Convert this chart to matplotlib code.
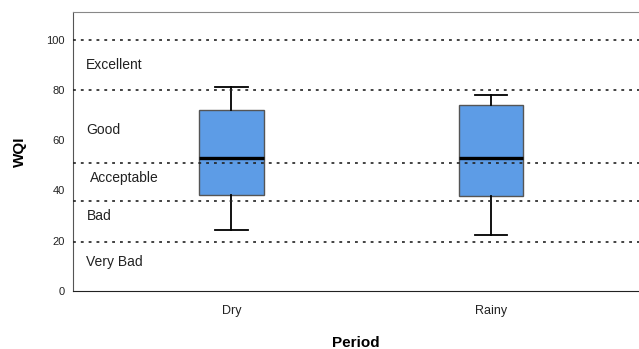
import matplotlib
matplotlib.use("Agg")
import matplotlib.pyplot as plt

plt.rcParams['font.family'] = ['Liberation Sans', 'DejaVu Sans']

periods = ["Dry", "Rainy"]
whislo = [24.3, 22.2]
q1 = [38.2, 37.8]
med = [52.8, 52.8]
q3 = [72.2, 74.1]
whishi = [81.0, 77.9]

class_lines = [100, 80, 51, 36, 19.5]
class_names = ["Excellent", "Good", "Acceptable", "Bad", "Very Bad"]
class_text_x = [-0.56, -0.56, -0.545, -0.555, -0.56]
class_text_y = [90, 64, 45, 30, 11.5]

stats = []
for i, p in enumerate(periods):
    stats.append(dict(label=p, whislo=whislo[i], q1=q1[i], med=med[i],
                      q3=q3[i], whishi=whishi[i], fliers=[]))

fig = plt.figure(figsize=(6.39, 3.49), dpi=100)
ax = fig.add_axes([73/639, 1 - 291/349, 1 - 73/639, 279/349])

ax.bxp(stats, positions=[0, 1], widths=0.25, patch_artist=True,
       boxprops=dict(facecolor='#5d9ce6', edgecolor='#555555', linewidth=1),
       medianprops=dict(color='black', linewidth=2.4),
       whiskerprops=dict(color='black', linewidth=1.3),
       capprops=dict(color='black', linewidth=1.3),
       capwidths=0.125, showfliers=False)

for y in class_lines:
    ax.axhline(y, color='#222222', linewidth=1.2, dashes=(1.7, 3.0), zorder=5)

for name, x, y in zip(class_names, class_text_x, class_text_y):
    ax.text(x, y, name, fontsize=10, va='center', ha='left', color='#222222')

ax.set_xlim(-0.61, 1.57)
ax.set_ylim(0, 111)
ax.set_yticks([0, 20, 40, 60, 80, 100])
ax.set_xticks([0, 1])
ax.set_xticklabels(periods)
ax.tick_params(axis='both', length=0, labelsize=8, colors='#222222')
ax.tick_params(axis='y', pad=6)
ax.tick_params(axis='x', pad=10, labelsize=9)

ax.spines['right'].set_visible(False)
ax.spines['top'].set_color('#888888')
ax.spines['left'].set_color('#555555')
ax.spines['bottom'].set_color('#222222')

ax.set_ylabel("WQI", fontsize=11, fontweight='bold', labelpad=14)
ax.set_xlabel("Period", fontsize=11, fontweight='bold', labelpad=14)

fig.savefig("out.png", dpi=100)
